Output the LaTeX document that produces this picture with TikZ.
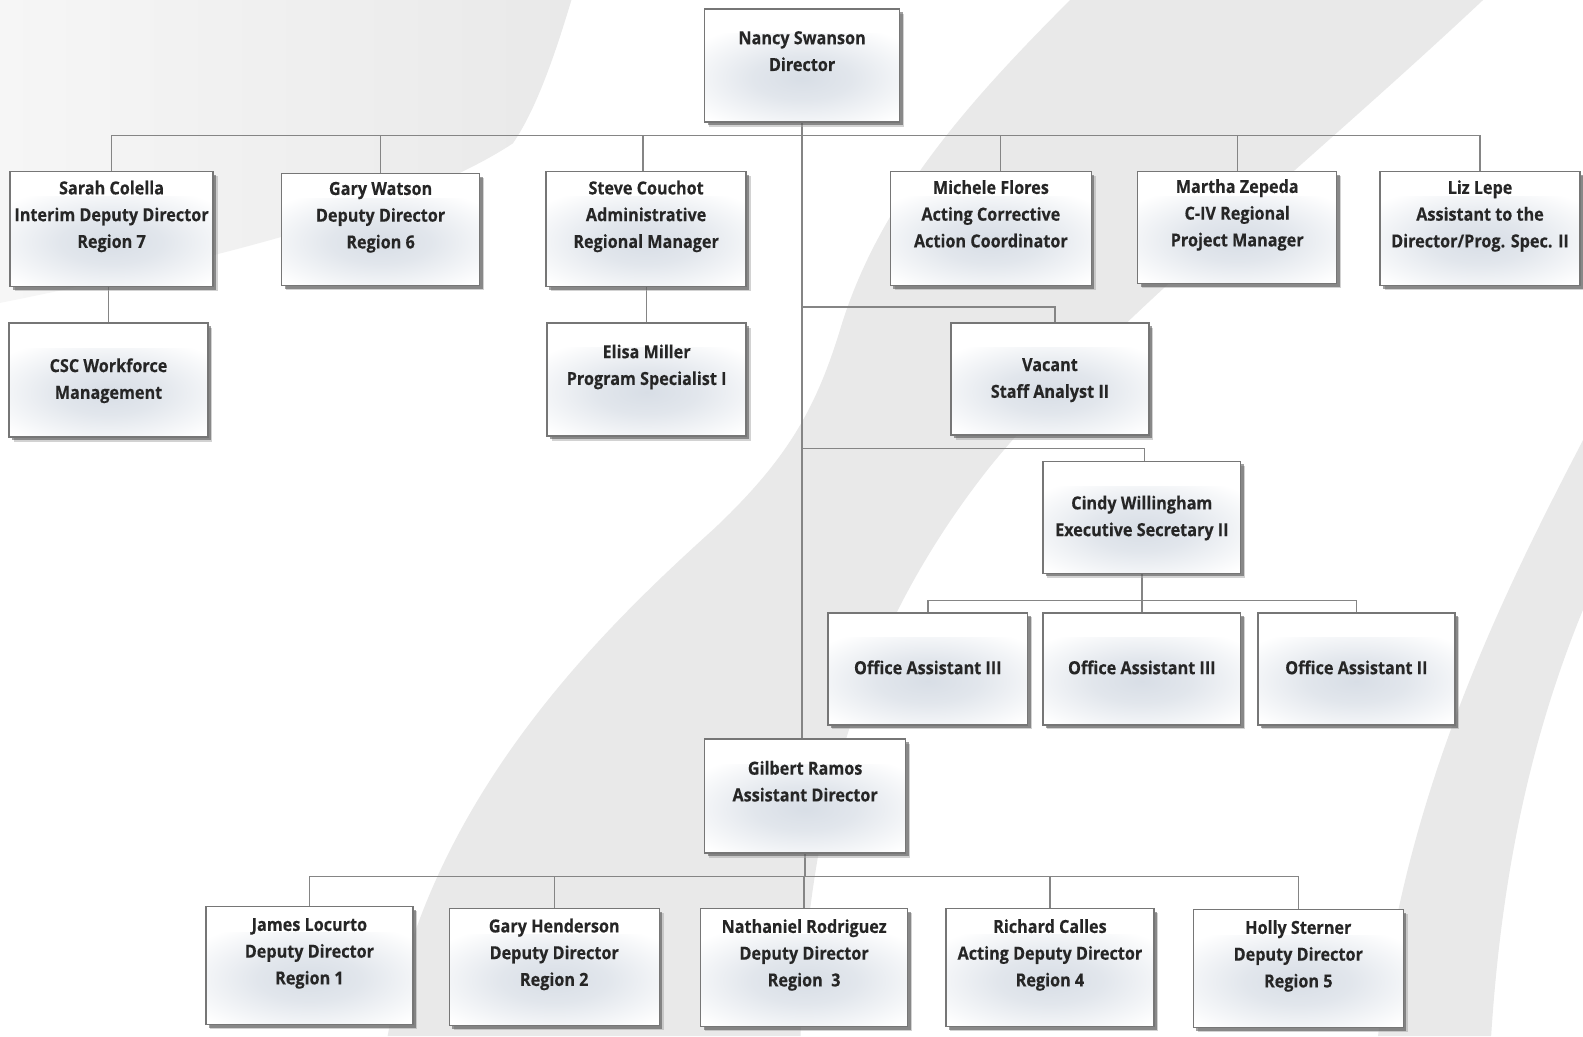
\documentclass[tikz,border=0pt]{standalone}
\usepackage{fontspec}
\setmainfont{Open Sans}[FakeStretch=0.9, BoldFeatures={FakeBold=0.3}]
\usetikzlibrary{shadows,calc}
\pgfdeclarelayer{bands}
\pgfdeclarelayer{links}
\pgfsetlayers{bands,links,main}
\definecolor{bandc}{HTML}{E9E9E9}
\definecolor{bandl}{HTML}{F6F6F6}
\definecolor{glowc}{HTML}{D8DEE6}
\definecolor{linec}{HTML}{858585}
\definecolor{boxline}{HTML}{767676}
\definecolor{txtc}{HTML}{262626}
\pgfdeclareradialshading{boxglow}{\pgfpoint{0bp}{0bp}}{color(0bp)=(glowc); color(8bp)=(glowc!75!white); color(21bp)=(white); color(50bp)=(white)}
\tikzset{
  orgbox/.style={draw=boxline, line width=1.4pt, fill=white, inner sep=1pt,
    align=center, text=txtc, font=\bfseries\fontsize{18}{26.75}\selectfont,
    drop shadow={shadow xshift=4.5pt, shadow yshift=-4.5pt, fill=black!35},
    drop shadow={shadow xshift=3pt, shadow yshift=-3pt, fill=black!75},
    path picture={\shade[shading=boxglow]
      let \p1=(path picture bounding box.south west),
          \p2=(path picture bounding box.north east) in
      ({\x1-0.3*(\x2-\x1)},{\y2-0.22*(\y2-\y1)}) rectangle
      ({\x2+0.3*(\x2-\x1)},{\y2-1.22*(\y2-\y1)});}},
  link/.style={draw=linec, line width=1.4pt}
}
\newcommand\orgnode[6]{%
  \pgfmathsetmacro\obw{(#4-#2)*1.00957}%
  \pgfmathsetmacro\obh{(#5-#3)*1.00957}%
  \node[orgbox, minimum width=\obw pt, minimum height=\obh pt] (#1)
    at ({(#2+#4)/2},{(#3+#5)/2}) {#6};}
\begin{document}
\begin{tikzpicture}[x=1.00957pt,y=-1.00957pt]
\useasboundingbox (0,0) rectangle (1568,1026.2);
\begin{pgfonlayer}{bands}
\fill[white] (0,0) rectangle (1568,1026.2);
\shade[left color=bandl, right color=bandc] (0,0) -- (566,0) .. controls (548,60) and (530,110) .. (508,142)
  .. controls (420,200) and (250,250) .. (0,300) -- cycle;
\fill[bandc] (1060,0) .. controls (960,100) and (870,200) .. (832,327)
  .. controls (808,405) and (780,455) .. (707,524)
  .. controls (595,625) and (425,790) .. (384,1026.2) -- (793,1026.2)
  .. controls (800,790) and (860,615) .. (980,463)
  .. controls (1090,327) and (1290,168) .. (1469,0) -- cycle;
\fill[bandc] (1568,436) .. controls (1485,595) and (1390,790) .. (1365,1026.2)
  -- (1477,1026.2) .. controls (1487,870) and (1515,733) .. (1568,604) -- cycle;
\end{pgfonlayer}

\orgnode{nancy}{698}{9}{891}{121}{Nancy Swanson\strut\\Director\strut\\\strut}
\orgnode{sarah}{10}{170}{211}{284}{Sarah Colella\strut\\Interim Deputy Director\strut\\Region 7\strut\\\strut}
\orgnode{garyw}{279}{172}{475}{283}{Gary Watson\strut\\Deputy Director\strut\\Region 6\strut\\\strut}
\orgnode{steve}{541}{170}{739}{284}{Steve Couchot\strut\\Administrative\strut\\Regional Manager\strut\\\strut}
\orgnode{michele}{882}{170}{1081}{283}{Michele Flores\strut\\Acting Corrective\strut\\Action Coordinator\strut\\\strut}
\orgnode{martha}{1127}{170}{1324}{281}{Martha Zepeda\strut\\C-IV Regional\strut\\Project Manager\strut\\\strut}
\orgnode{liz}{1367}{170}{1565}{283}{Liz Lepe\strut\\Assistant to the\strut\\Director/Prog. Spec. II\strut\\\strut}
\orgnode{csc}{9}{320}{206}{433}{CSC Workforce\strut\\Management\strut}
\orgnode{elisa}{542}{320}{739}{432}{Elisa Miller\strut\\Program Specialist I\strut\\\strut}
\orgnode{vacant}{942}{320}{1138}{431}{Vacant\strut\\Staff Analyst II\strut}
\orgnode{cindy}{1033}{457}{1229}{568}{Cindy Willingham\strut\\Executive Secretary II\strut}
\orgnode{oaa}{820}{607}{1018}{718}{Office Assistant III\strut}
\orgnode{oab}{1033}{607}{1229}{718}{Office Assistant III\strut}
\orgnode{oac}{1246}{607}{1441}{718}{Office Assistant II\strut}
\orgnode{gilbert}{698}{732}{897}{845}{Gilbert Ramos\strut\\Assistant Director\strut\\\strut}
\orgnode{james}{204}{898}{409}{1015}{James Locurto\strut\\Deputy Director\strut\\Region 1\strut\\\strut}
\orgnode{garyh}{445}{900}{653}{1016}{Gary Henderson\strut\\Deputy Director\strut\\Region 2\strut\\\strut}
\orgnode{nathaniel}{694}{900}{899}{1017}{Nathaniel Rodriguez\strut\\Deputy Director\strut\\Region\ \ 3\strut\\\strut}
\orgnode{richard}{937}{900}{1143}{1017}{Richard Calles\strut\\Acting Deputy Director\strut\\Region 4\strut\\\strut}
\orgnode{holly}{1182}{901}{1390}{1018}{Holly Sterner\strut\\Deputy Director\strut\\Region 5\strut\\\strut}

\coordinate (topbar) at (794.5,134);
\coordinate (vj) at (794.5,304);
\coordinate (cj) at (794.5,444);
\coordinate (oj) at (1131,595);
\coordinate (bj) at (797,868);

\begin{pgfonlayer}{links}
\draw[link] (nancy.south) -- (nancy.south |- gilbert.north);
\draw[link] (sarah.north) -- (sarah.north |- topbar) -- (liz.north |- topbar) -- (liz.north);
\draw[link] (garyw.north) -- (garyw.north |- topbar);
\draw[link] ([xshift=-3pt]steve.north) -- ([xshift=-3pt]steve.north |- topbar);
\draw[link] ([xshift=9.5pt]michele.north) -- ([xshift=9.5pt]michele.north |- topbar);
\draw[link] (martha.north) -- (martha.north |- topbar);
\draw[link] (csc.north) -- (csc.north |- sarah.south);
\draw[link] (elisa.north) -- (elisa.north |- steve.south);
\draw[link] (vj) -| ([xshift=5pt]vacant.north);
\draw[link] (cj) -| ([xshift=2.5pt]cindy.north);
\draw[link] (cindy.south) -- (cindy.south |- oj);
\draw[link] (oaa.north) |- (oj) -| (oac.north);
\draw[link] (oab.north) -- (oab.north |- oj);
\draw[link] (gilbert.south) -- (gilbert.south |- bj);
\draw[link] (james.north) |- (bj) -| (holly.north);
\draw[link] (garyh.north) -- (garyh.north |- bj);
\draw[link] (nathaniel.north) -- (nathaniel.north |- bj);
\draw[link] (richard.north) -- (richard.north |- bj);
\end{pgfonlayer}
\end{tikzpicture}
\end{document}
